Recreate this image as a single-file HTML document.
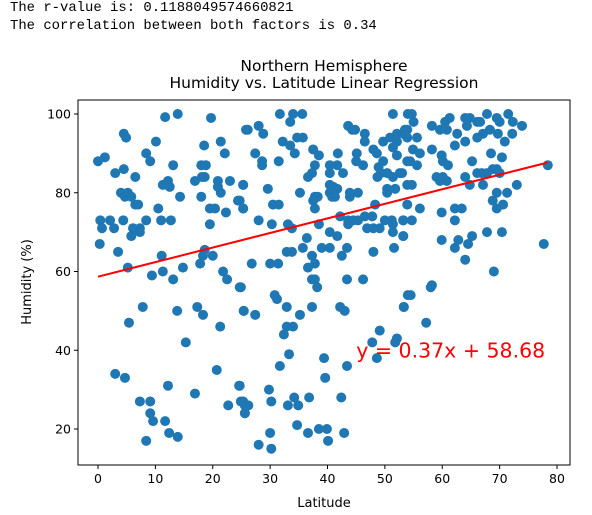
<!DOCTYPE html>
<html><head><meta charset="utf-8">
<style>
body{margin:0;background:#fff;width:592px;height:515px;overflow:hidden}
.hdr{position:absolute;left:10px;font-family:"Liberation Mono",monospace;font-size:13.9px;color:#000;white-space:pre}
svg{position:absolute;left:0;top:0}
text{font-family:"DejaVu Sans","Liberation Sans",sans-serif}
</style></head>
<body>
<div class="hdr" style="top:0px">The r-value is: 0.1188049574660821</div>
<div class="hdr" style="top:18px">The correlation between both factors is 0.34</div>
<svg id="chart" width="592" height="515"></svg>
<script>
const lats=[11.7,13.9,19.7,25.8,4.5,4.9,10.1,21.4,18.5,8.4,22.1,0,1.2,9.1,13.1,18,18.8,3,4.5,6.5,18.1,18.6,16.9,20.9,23,25.3,11.3,12.2,12.5,20.9,21.4,4,5.2,4.7,5.8,14.3,18,24.4,6.5,7,10.5,19.5,20.4,25.3,22.3,0.4,2.1,4.4,8.4,11,12.7,0.7,2.8,6.1,7.3,5.8,7.3,19.5,0.3,3.5,18.6,18.3,17.8,20,11.1,5.2,14.8,11.3,9.4,13.1,21.8,22.5,
7.8,5.4,13.8,17.3,18.3,21.3,24.9,25.4,15.3,3,4.7,20.7,12.2,16.9,24.6,7.3,9.1,9.1,9.6,11.7,12.4,13.9,8.4,22.7,24.9,25.6,25.6,
31.7,34,35.6,33.5,51.4,54,26.1,28,28.8,43.6,44.3,44.8,46.5,34.7,35.7,32.2,33.5,49.7,50.9,52.1,53.2,53.9,52.1,53.9,46.5,34.3,27.4,37.5,38.5,41.8,45.1,45,48,48.6,51.4,52.1,28.6,28.6,31.5,37.8,37.3,36.6,40.4,41.7,46.2,49.7,53.9,40.4,42.7,48.9,49.3,48.7,50.4,51.4,52.6,25.3,29.6,35.2,40.4,41,41.7,40.4,40.8,41.3,37.8,38.3,37.5,37.8,43.9,45.3,43.9,50.4,51.8,50.4,53.9,24.7,25.3,30.5,31.5,48.3,53.9,28,30.3,33.1,33.8,38.5,42.2,43.6,44.5,45.3,46.5,47.8,43.6,46.9,48,49.1,50,51.2,51.4,53.2,51.4,40.4,41.7,53.2,36.4,35.7,39,40.4,43.4,32.9,33.8,51.6,48,37.3,37.8,36.6,42.5,26.8,30,31.4,37.3,43.4,46.2,
24.7,30.8,31.2,32.9,37.3,35.2,37.8,38.2,25.4,27.4,42.2,43,53.3,54,32.9,34,32.4,49.1,47.8,48.6,52.1,51.8,33.3,31.7,39.4,43.4,39.6,29.8,24.7,30.2,25.3,26.2,25.6,34.2,33.1,34.9,36.8,42.4,34.7,36.6,38.5,39.9,40.1,42.9,30,28,30.2,
54.7,55,53.5,58.2,59.6,60.5,61.3,60.8,62.6,64,64.8,64.3,66.1,66.6,67.8,69.5,70,71.5,72.3,73.9,68.3,67.1,66.1,69.7,72.2,70.9,62.2,64,55.6,54.9,56.1,54.4,55.6,58.2,59.9,60.1,61,65.2,68.5,70.4,53,59,59.6,60.8,60.1,64,66.1,66.9,67.8,68.8,69.5,70,64.8,67.1,54.7,78.4,73,69.5,71.3,68.8,70.6,69.5,56.1,59.9,62.2,63.4,62.2,53.2,54.7,53.2,59.9,62.8,62.2,64.5,65.2,67.8,70.4,77.7,64,69,58.2,58,54.5,53.3,57.2];
const hums=[99.2,100,99,96,95,94,93,93,92,90,90,88,89,88,87,87,87,85,86,84,84,84,83,83,83,82,82,83,81.5,81.5,80,80,80,79,79,79,79,78,77,77,76,76,76,76,75,73,73,73,73,73,73,71,71,71,71,69,70,72,67,65,65.5,64,62,64,64,61,61,60,59,58,60,58,
51,47,50,51,49,46,56,50,42,34,33,35,31,29,31,27,27,24,22,22,19,18,17,26,27,26,24,
100,100,100,98,100,100,96,97,95,97,96,96,95,94,94,93,92,93,94,95,95,96,93,94,93,90,90,91,89.5,90,90,88,91,90,91.5,89.5,88,87,88,87,85,84,87,87,87,88,88,85,85,86.5,85,84,85,84,85,82,81,80,82,81.5,81,80,79,79,79,79,78,76,80,80,79,81,81,80,82,78,76,77,77,77,77,73,72,72,71,72,74,73,73,73,74,74,72,71,71,71,73,73,72,73,70,70,69,69,68.5,66,66,66,66,65,65,66,65,64,62,61,64,62,62,62,58,58,58,
56,54,53,51,51,49,58,56,50,49,51,50,51,54,46,46,44,45,42,38,43,42,39,36,38,36,33,30,31,27,27,26,24,28,26,26,28,28,21,19,20,20,17,19,19,16,15,
100,98,96,97,96,98,99,96,95,99,99,97,98,98,100,99,98,100,98,97,96,95,94,95,95,93,92,93,94,91,90,88,87,91,89.5,88,87,88,90,89,85,84,83,83,84,84,85,85,85,86,86,85,82,82,82,87,82,80,80,78,77,76,76,75,76,76,73,73,73,69,68,68,66,67,69,70,70,67,63,60,56.5,56,54,51,47];
const xTicks=[0,10,20,30,40,50,60,70,80];
const yTicks=[20,40,60,80,100];
const slope=0.37, intercept=58.68;
const svg=document.getElementById('chart');
const NS='http://www.w3.org/2000/svg';
const L=78,T=100,R=570,B=465;
const xs=v=>98+v*(557-98)/80;
const ys=v=>429-(v-20)*(429-114)/80;
function mk(tag,attrs){const e=document.createElementNS(NS,tag);for(const k in attrs)e.setAttribute(k,attrs[k]);svg.appendChild(e);return e;}
let t=mk('text',{x:324,y:71,'text-anchor':'middle','font-size':'15.5'});t.textContent='Northern Hemisphere';


t=mk('text',{x:324,y:88,'text-anchor':'middle','font-size':'15.5'});t.textContent='Humidity vs. Latitude Linear Regression';


lats.forEach((la,i)=>{
  const c=mk('circle',{cx:xs(la),cy:ys(hums[i]),r:5,fill:'#1f77b4'});
  
  
});
const xmin=Math.min(...lats),xmax=Math.max(...lats);
const ln=mk('line',{x1:xs(xmin),y1:ys(slope*xmin+intercept),x2:xs(xmax),y2:ys(slope*xmax+intercept),stroke:'#ff0000','stroke-width':2});


t=mk('text',{x:xs(45),y:ys(40)+7,'font-size':'20.5',fill:'#ff0000'});t.textContent='y = 0.37x + 58.68';


const fr=mk('rect',{x:L,y:T,width:R-L,height:B-T,fill:'none',stroke:'#000','stroke-width':1});


xTicks.forEach(v=>{
  const tk=mk('line',{x1:xs(v),y1:B,x2:xs(v),y2:B+4,stroke:'#000'});
  
  
  const tl=mk('text',{x:xs(v),y:B+18,'text-anchor':'middle','font-size':'12.5'});tl.textContent=v;
  
  
});
yTicks.forEach(v=>{
  const tk=mk('line',{x1:L-4,y1:ys(v),x2:L,y2:ys(v),stroke:'#000'});
  
  
  const tl=mk('text',{x:L-7,y:ys(v)+4.5,'text-anchor':'end','font-size':'12.5'});tl.textContent=v;
  
  
});
t=mk('text',{x:324,y:507,'text-anchor':'middle','font-size':'13'});t.textContent='Latitude';


t=mk('text',{x:0,y:0,'text-anchor':'middle','font-size':'13',transform:'translate(31,282) rotate(-90)'});t.textContent='Humidity (%)';


</script>
</body></html>
